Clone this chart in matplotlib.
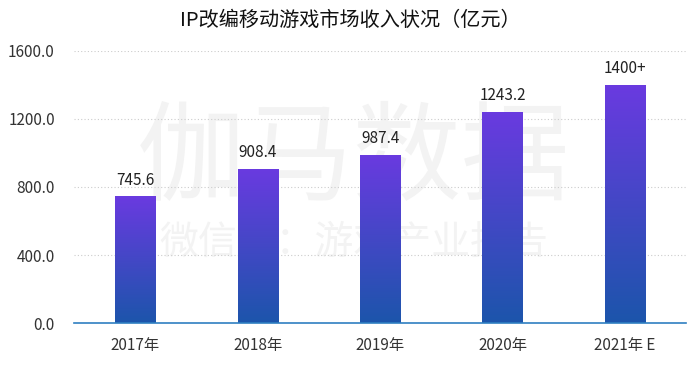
import numpy as np
import matplotlib
matplotlib.use('Agg')
import matplotlib.pyplot as plt
from matplotlib.colors import LinearSegmentedColormap

plt.rcParams['font.family'] = ['Noto Sans CJK SC', 'DejaVu Sans']

years = ['2017年', '2018年', '2019年', '2020年', '2021年 E']
revenue = [745.6, 908.4, 987.4, 1243.2, 1400]
value_labels = ['745.6', '908.4', '987.4', '1243.2', '1400+']
yticks = [0, 400, 800, 1200, 1600]

fig = plt.figure(figsize=(7, 3.71), dpi=100)
ax = fig.add_axes([0.106, 0.129, 0.874, 0.734])

# watermark behind the bars
ax.text(0.505, 0.565, '伽马数据', fontsize=78, color='#f3f3f3', ha='center', va='center',
        transform=fig.transFigure, zorder=1)
ax.text(0.505, 0.345, '微信号：游戏产业报告', fontsize=28, color='#f3f3f3', ha='center', va='center',
        transform=fig.transFigure, zorder=1)

cmap = LinearSegmentedColormap.from_list('bar', ['#1c55ab', '#6a3ae0'])
grad = np.linspace(0, 1, 256).reshape(-1, 1)

x = np.arange(len(years))
width = 0.33
bars = ax.bar(x, revenue, width=width, color='none', edgecolor='none', zorder=3)
for b, lab in zip(bars, value_labels):
    bx, bw, bh = b.get_x(), b.get_width(), b.get_height()
    im = ax.imshow(grad, cmap=cmap, origin='lower', aspect='auto',
                   extent=[bx, bx + bw, 0, bh], zorder=3)
    im.set_clip_path(b)
    ax.text(b.get_x() + bw / 2, bh + 45, lab, ha='center', va='bottom',
            fontsize=11, color='#222222', zorder=5)

ax.set_xlim(-0.5, 4.5)
ax.set_ylim(0, 1600)
ax.set_yticks(yticks)
ax.set_yticklabels([f'{v:.1f}' for v in yticks])
ax.set_xticks(x)
ax.set_xticklabels(years)
ax.tick_params(axis='both', length=0, labelsize=11, colors='#333333')
ax.tick_params(axis='x', pad=10)
ax.tick_params(axis='y', pad=14)
ax.grid(axis='y', linestyle=(0, (1, 2)), color='#cccccc', linewidth=0.8, zorder=0)
for s in ['top', 'right', 'left']:
    ax.spines[s].set_visible(False)
ax.spines['bottom'].set_color('#2f7fc1')
ax.spines['bottom'].set_linewidth(1.2)
ax.spines['bottom'].set_zorder(4)

fig.text(0.5, 0.945, 'IP改编移动游戏市场收入状况（亿元）', ha='center', va='center',
         fontsize=14.5, color='#111111')

plt.savefig('out.png', dpi=100)
